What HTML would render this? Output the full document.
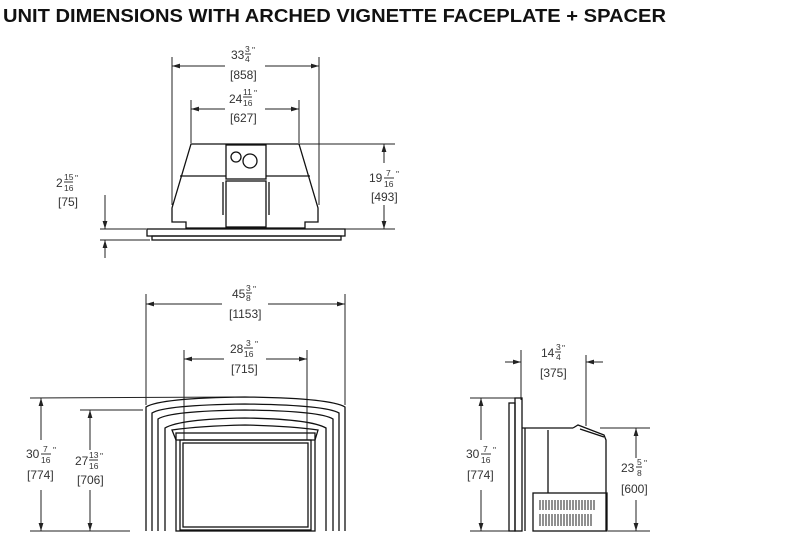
<!DOCTYPE html>
<html><head><meta charset="utf-8"><style>
html,body{margin:0;padding:0;background:#fff;}
svg{display:block;font-family:"Liberation Sans",sans-serif;}
.d{stroke:#222;stroke-width:1;fill:none}
.b{stroke:#111;stroke-width:1.3;fill:none}
.t{font-size:12px;fill:#333}
.f{font-size:8.5px;fill:#333}
</style></head><body>
<svg width="800" height="551" viewBox="0 0 800 551" xmlns="http://www.w3.org/2000/svg">
<defs>
<marker id="a" viewBox="0 0 10 10" refX="10" refY="5" markerWidth="8" markerHeight="8" orient="auto-start-reverse"><path d="M0,2 L10,5 L0,8 z" fill="#222"/></marker>
</defs>
<text x="3" y="22" font-size="18" font-weight="bold" fill="#111" textLength="663" lengthAdjust="spacingAndGlyphs">UNIT DIMENSIONS WITH ARCHED VIGNETTE FACEPLATE + SPACER</text>

<!-- TOP VIEW -->
<g class="d">
<line x1="172" y1="57" x2="172" y2="205"/><line x1="319" y1="57" x2="319" y2="205"/>
<line x1="225" y1="66" x2="172" y2="66" marker-end="url(#a)"/><line x1="265" y1="66" x2="319" y2="66" marker-end="url(#a)"/>
<line x1="191" y1="100" x2="191" y2="143"/><line x1="299" y1="100" x2="299" y2="143"/>
<line x1="225" y1="109" x2="191" y2="109" marker-end="url(#a)"/><line x1="265" y1="109" x2="299" y2="109" marker-end="url(#a)"/>
<line x1="299" y1="144" x2="395" y2="144"/><line x1="345" y1="229" x2="395" y2="229"/>
<line x1="384" y1="163" x2="384" y2="144" marker-end="url(#a)"/><line x1="384" y1="205" x2="384" y2="229" marker-end="url(#a)"/>
<line x1="100" y1="229" x2="146" y2="229"/><line x1="100" y1="240" x2="150" y2="240"/>
<line x1="105" y1="195" x2="105" y2="229" marker-end="url(#a)"/><line x1="105" y1="258" x2="105" y2="240" marker-end="url(#a)"/>
</g>
<text class="t" x="231" y="59">33</text><text class="f" x="245" y="52">3</text><line x1="245" y1="54" x2="251" y2="54" stroke="#333"/><text class="f" x="245" y="62">4</text><text class="f" x="252" y="53">"</text>
<text class="t" x="230" y="79">[858]</text>
<text class="t" x="229" y="103">24</text><text class="f" x="243" y="95">11</text><line x1="243" y1="97" x2="252" y2="97" stroke="#333"/><text class="f" x="243" y="106">16</text><text class="f" x="254" y="96">"</text>
<text class="t" x="230" y="122">[627]</text>
<text class="t" x="369" y="182">19</text><text class="f" x="386" y="176">7</text><line x1="384" y1="178" x2="394" y2="178" stroke="#333"/><text class="f" x="384" y="187">16</text><text class="f" x="396" y="177">"</text>
<text class="t" x="371" y="201">[493]</text>
<text class="t" x="56" y="187">2</text><text class="f" x="64" y="180">15</text><line x1="64" y1="182" x2="73" y2="182" stroke="#333"/><text class="f" x="64" y="191">16</text><text class="f" x="75" y="181">"</text>
<text class="t" x="58" y="206">[75]</text>
<g class="b">
<path d="M191,144 L299,144 L318,208 L318,222 L305,222 L305,228 L186,228 L186,222 L172,222 L172,208 Z"/>
<line x1="180" y1="176" x2="226" y2="176"/><line x1="266" y1="176" x2="310" y2="176"/>
<rect x="226" y="145" width="40" height="34"/>
<circle cx="236" cy="157" r="5"/><circle cx="250" cy="161" r="7"/>
<rect x="226" y="181" width="40" height="46"/>
<line x1="223" y1="182" x2="223" y2="215"/><line x1="269" y1="182" x2="269" y2="215"/>
<rect x="147" y="229" width="198" height="7"/>
<rect x="152" y="236" width="189" height="4"/>
</g>

<!-- FRONT VIEW -->
<g class="d">
<line x1="146" y1="294" x2="146" y2="405"/><line x1="345" y1="294" x2="345" y2="405"/>
<line x1="222" y1="304" x2="146" y2="304" marker-end="url(#a)"/><line x1="268" y1="304" x2="345" y2="304" marker-end="url(#a)"/>
<line x1="184" y1="350" x2="184" y2="440"/><line x1="307" y1="350" x2="307" y2="440"/>
<line x1="224" y1="359" x2="184" y2="359" marker-end="url(#a)"/><line x1="266" y1="359" x2="307" y2="359" marker-end="url(#a)"/>
<line x1="30" y1="398" x2="245" y2="397"/><line x1="80" y1="410" x2="143" y2="410"/>
<line x1="30" y1="531" x2="130" y2="531"/>
<line x1="41" y1="440" x2="41" y2="398" marker-end="url(#a)"/><line x1="41" y1="490" x2="41" y2="531" marker-end="url(#a)"/>
<line x1="90" y1="450" x2="90" y2="410" marker-end="url(#a)"/><line x1="90" y1="490" x2="90" y2="531" marker-end="url(#a)"/>
</g>
<text class="t" x="232" y="298">45</text><text class="f" x="246" y="291">3</text><line x1="246" y1="293" x2="252" y2="293" stroke="#333"/><text class="f" x="246" y="301">8</text><text class="f" x="253" y="292">"</text>
<text class="t" x="229" y="318">[1153]</text>
<text class="t" x="230" y="353">28</text><text class="f" x="246" y="346">3</text><line x1="244" y1="348" x2="253" y2="348" stroke="#333"/><text class="f" x="244" y="357">16</text><text class="f" x="255" y="347">"</text>
<text class="t" x="231" y="373">[715]</text>
<text class="t" x="26" y="458">30</text><text class="f" x="43" y="452">7</text><line x1="41" y1="454" x2="51" y2="454" stroke="#333"/><text class="f" x="41" y="463">16</text><text class="f" x="53" y="453">"</text>
<text class="t" x="27" y="479">[774]</text>
<text class="t" x="75" y="465">27</text><text class="f" x="89" y="458">13</text><line x1="89" y1="460" x2="98" y2="460" stroke="#333"/><text class="f" x="89" y="469">16</text><text class="f" x="100" y="459">"</text>
<text class="t" x="77" y="484">[706]</text>
<g class="b">
<path d="M146,531 L146,407 Q160,398 245,397 Q330,398 345,407 L345,531"/>
<path d="M152,531 L152,413 Q165,405 245,404 Q325,405 339,413 L339,531"/>
<path d="M158,531 L158,419 Q170,411 245,410 Q320,411 333,419 L333,531"/>
<path d="M165,531 L165,428 Q180,419 245,418 Q310,419 326,428 L326,531"/>
<path d="M172,430 Q200,426 245,425 Q290,426 318,430 L315,440 L176,440 Z"/>
<rect x="176" y="433" width="139" height="98"/>
<rect x="180" y="440" width="131" height="90"/>
<rect x="183" y="443" width="125" height="84"/>
</g>

<!-- SIDE VIEW -->
<g class="d">
<line x1="521" y1="350" x2="521" y2="400"/><line x1="586" y1="355" x2="586" y2="426"/>
<line x1="505" y1="362" x2="521" y2="362" marker-end="url(#a)"/><line x1="603" y1="362" x2="586" y2="362" marker-end="url(#a)"/>
<line x1="470" y1="398" x2="515" y2="398"/><line x1="470" y1="531" x2="510" y2="531"/>
<line x1="481" y1="440" x2="481" y2="398" marker-end="url(#a)"/><line x1="481" y1="490" x2="481" y2="531" marker-end="url(#a)"/>
<line x1="600" y1="428" x2="650" y2="428"/><line x1="608" y1="531" x2="650" y2="531"/>
<line x1="636" y1="458" x2="636" y2="428" marker-end="url(#a)"/><line x1="636" y1="500" x2="636" y2="531" marker-end="url(#a)"/>
</g>
<text class="t" x="541" y="357">14</text><text class="f" x="556" y="350">3</text><line x1="555" y1="352" x2="561" y2="352" stroke="#333"/><text class="f" x="556" y="360">4</text><text class="f" x="562" y="351">"</text>
<text class="t" x="540" y="377">[375]</text>
<text class="t" x="466" y="458">30</text><text class="f" x="483" y="452">7</text><line x1="481" y1="454" x2="491" y2="454" stroke="#333"/><text class="f" x="481" y="463">16</text><text class="f" x="493" y="453">"</text>
<text class="t" x="467" y="479">[774]</text>
<text class="t" x="621" y="472">23</text><text class="f" x="637" y="465">5</text><line x1="636" y1="467" x2="642" y2="467" stroke="#333"/><text class="f" x="637" y="476">8</text><text class="f" x="644" y="466">"</text>
<text class="t" x="621" y="493">[600]</text>
<g class="b">
<rect x="509" y="403" width="6" height="128"/>
<rect x="515" y="398" width="7" height="133"/>
<line x1="522" y1="428" x2="573" y2="428"/>
<path d="M573,428 L578,425 L604,435 L606,440 L606,531"/>
<line x1="580" y1="429" x2="604" y2="437"/>
<line x1="548" y1="430" x2="548" y2="493"/>
<rect x="533" y="493" width="74" height="38"/>
<line x1="525" y1="428" x2="525" y2="531"/>
</g>
<g stroke="#222" stroke-width="1">
<path d="M540,500 v10 M543,500 v10 M546,500 v10 M549,500 v10 M552,500 v10 M555,500 v10 M558,500 v10 M561,500 v10 M564,500 v10 M567,500 v10 M570,500 v10 M573,500 v10 M576,500 v10 M579,500 v10 M582,500 v10 M585,500 v10 M588,500 v10 M591,500 v10 M594,500 v10"/>
<path d="M540,514 v12 M543,514 v12 M546,514 v12 M549,514 v12 M552,514 v12 M555,514 v12 M558,514 v12 M561,514 v12 M564,514 v12 M567,514 v12 M570,514 v12 M573,514 v12 M576,514 v12 M579,514 v12 M582,514 v12 M585,514 v12 M588,514 v12 M591,514 v12"/>
</g>
</svg>
</body></html>
